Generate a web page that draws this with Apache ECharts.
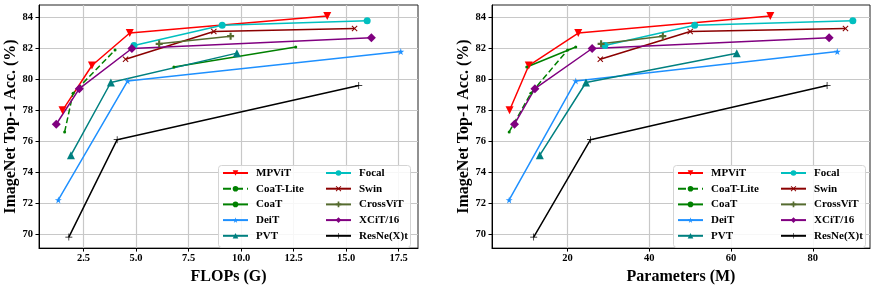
<!DOCTYPE html>
<html><head><meta charset="utf-8">
<script src="https://cdn.jsdelivr.net/npm/echarts@6/dist/echarts.min.js"></script>
<style>html,body{margin:0;padding:0;background:#fff}#c{width:876px;height:290px}</style>
</head><body><div id="c"></div>
<script>
// ---- data ----
const names = ['MPViT','CoaT-Lite','CoaT','DeiT','PVT','Focal','Swin','CrossViT','XCiT/16','ResNe(X)t'];
const mpvitFlops = [1.5, 2.9, 4.7, 14.1];
const mpvitParams = [5.8, 10.5, 22.6, 69.6];
const mpvitAcc = [78.0, 80.9, 83.0, 84.1];
const coatLiteFlops = [1.6, 2.0, 4.0];
const coatLiteParams = [5.7, 11, 20];
const coatLiteAcc = [76.6, 79.1, 81.9];
const coatFlops = [6.8, 12.6];
const coatParams = [10, 22];
const coatAcc = [80.8, 82.1];
const deitFlops = [1.3, 4.6, 17.6];
const deitParams = [5.7, 22, 86];
const deitAcc = [72.2, 79.9, 81.8];
const pvtFlops = [1.9, 3.8, 9.8];
const pvtParams = [13.2, 24.5, 61.4];
const pvtAcc = [75.1, 79.8, 81.7];
const focalFlops = [4.9, 9.1, 16.0];
const focalParams = [29.1, 51.1, 89.8];
const focalAcc = [82.2, 83.5, 83.8];
const swinFlops = [4.5, 8.7, 15.4];
const swinParams = [28, 50, 88];
const swinAcc = [81.3, 83.1, 83.3];
const crossFlops = [6.1, 9.5];
const crossParams = [28.2, 43.3];
const crossAcc = [82.3, 82.8];
const xcitFlops = [1.2, 2.3, 4.8, 16.2];
const xcitParams = [7, 12, 26, 84];
const xcitAcc = [77.1, 79.4, 82.0, 82.7];
const resFlops = [1.8, 4.1, 15.6];
const resParams = [11.7, 25.6, 83.5];
const resAcc = [69.8, 76.1, 79.6];
const yTicks = [70, 72, 74, 76, 78, 80, 82, 84];
const flopsTicks = [2.5, 5.0, 7.5, 10.0, 12.5, 15.0, 17.5];
const paramTicks = [20, 40, 60, 80];

// ---- styles ----
const FONT = 'Liberation Serif';
const P = {
  star: 'path://M50,0 L61,35 L98,35 L68,57 L79,91 L50,70 L21,91 L32,57 L2,35 L39,35 Z',
  cross: 'path://M0,12 L12,0 L50,38 L88,0 L100,12 L62,50 L100,88 L88,100 L50,62 L12,100 L0,88 L38,50 Z',
  plusFat: 'path://M35,0 H65 V35 H100 V65 H65 V100 H35 V65 H0 V35 H35 Z',
  plusThin: 'path://M45,0 H55 V45 H100 V55 H55 V100 H45 V55 H0 V45 H45 Z'
};
const styles = {
  'MPViT':     {color:'#ff0000', symbol:'triangle', size:8, rot:180},
  'CoaT-Lite': {color:'#008000', symbol:'circle', size:3, dash:'dashed'},
  'CoaT':      {color:'#008000', symbol:'circle', size:3},
  'DeiT':      {color:'#1e90ff', symbol:P.star, size:7},
  'PVT':       {color:'#008080', symbol:'triangle', size:8},
  'Focal':     {color:'#00bfbf', symbol:'circle', size:7},
  'Swin':      {color:'#8b0000', symbol:P.cross, size:6},
  'CrossViT':  {color:'#556b2f', symbol:P.plusFat, size:7},
  'XCiT/16':   {color:'#800080', symbol:'diamond', size:9},
  'ResNe(X)t': {color:'#000000', symbol:P.plusThin, size:7}
};
const sets = {
  'MPViT':[mpvitFlops, mpvitParams, mpvitAcc],
  'CoaT-Lite':[coatLiteFlops, coatLiteParams, coatLiteAcc],
  'CoaT':[coatFlops, coatParams, coatAcc],
  'DeiT':[deitFlops, deitParams, deitAcc],
  'PVT':[pvtFlops, pvtParams, pvtAcc],
  'Focal':[focalFlops, focalParams, focalAcc],
  'Swin':[swinFlops, swinParams, swinAcc],
  'CrossViT':[crossFlops, crossParams, crossAcc],
  'XCiT/16':[xcitFlops, xcitParams, xcitAcc],
  'ResNe(X)t':[resFlops, resParams, resAcc]
};

const series = [];
[0,1].forEach(ai => {
  names.forEach(n => {
    const s = styles[n], d = sets[n];
    const xs = d[ai], ys = d[2];
    series.push({
      type:'line', name:n, xAxisIndex:ai, yAxisIndex:ai,
      data: xs.map((x,i)=>[x, ys[i]]),
      symbol:s.symbol, symbolSize:s.size, symbolRotate:s.rot||0,
      showAllSymbol:true,
      lineStyle:{color:s.color, width:1.5, type:s.dash||'solid'},
      itemStyle:{color:s.color},
      emphasis:{disabled:true},
      z: 2
    });
  });
});

const axisLabel = {fontFamily:FONT, fontWeight:'bold', fontSize:10.5, color:'#000'};
function yAxis(gi){
  return {type:'value', gridIndex:gi, min:69.085, max:84.815,
    name:'ImageNet Top-1 Acc. (%)', nameLocation:'middle', nameGap:19,
    nameTextStyle:{fontFamily:FONT, fontWeight:'bold', fontSize:16, color:'#000'},
    axisLine:{show:true, lineStyle:{color:'#000', width:1}},
    axisTick:{show:true, length:3.5, lineStyle:{color:'#000'}, customValues:yTicks},
    axisLabel:Object.assign({margin:6, customValues:yTicks}, axisLabel),
    splitLine:{show:true, lineStyle:{color:'#c8c8c8', width:1.2}}
  };
}
function xAxis(gi, min, max, ticks, name, fmt){
  return {type:'value', gridIndex:gi, min:min, max:max,
    name:name, nameLocation:'middle', nameGap:19,
    nameTextStyle:{fontFamily:FONT, fontWeight:'bold', fontSize:16, color:'#000', verticalAlign:'top'},
    axisLine:{show:true, onZero:false, lineStyle:{color:'#000', width:1}},
    axisTick:{show:true, length:3.5, lineStyle:{color:'#000'}, customValues:ticks},
    axisLabel:Object.assign({margin:5, customValues:ticks, formatter:fmt}, axisLabel),
    splitLine:{show:true, lineStyle:{color:'#c8c8c8', width:1.2}}
  };
}
function legend(left, data){
  return {orient:'vertical', left:left, top:167, data:data, itemWidth:25, itemHeight:7,
    itemGap:3.7, padding:0, selectedMode:false,
    textStyle:{fontFamily:FONT, fontWeight:'bold', fontSize:11, color:'#000', lineHeight:12, padding:[0,0,0,3]}};
}

const option = {
  animation:false,
  grid:[
    {left:39, top:5, width:379, height:248, show:true, borderColor:'#222', borderWidth:1, containLabel:false},
    {left:492, top:5, width:378, height:248, show:true, borderColor:'#222', borderWidth:1, containLabel:false}
  ],
  xAxis:[
    xAxis(0, 0.38, 18.42, flopsTicks, 'FLOPs (G)', v=>v.toFixed(1)),
    xAxis(1, 1.5, 94.0, paramTicks, 'Parameters (M)', v=>String(v))
  ],
  yAxis:[yAxis(0), yAxis(1)],
  legend:[
    legend(222, names.slice(0,5)), legend(325, names.slice(5)),
    legend(677, names.slice(0,5)), legend(780, names.slice(5))
  ],
  graphic:[
    {type:'rect', z:3, shape:{x:218.5, y:165.5, width:192, height:82, r:3}, style:{fill:'rgba(255,255,255,0.85)', stroke:'#d4d4d4', lineWidth:1}},
    {type:'rect', z:3, shape:{x:673.5, y:165.5, width:192, height:82, r:3}, style:{fill:'rgba(255,255,255,0.85)', stroke:'#d4d4d4', lineWidth:1}}
  ],
  series:series
};
const chart = echarts.init(document.getElementById('c'), null, {renderer:'canvas'});
chart.setOption(option);
</script></body></html>
